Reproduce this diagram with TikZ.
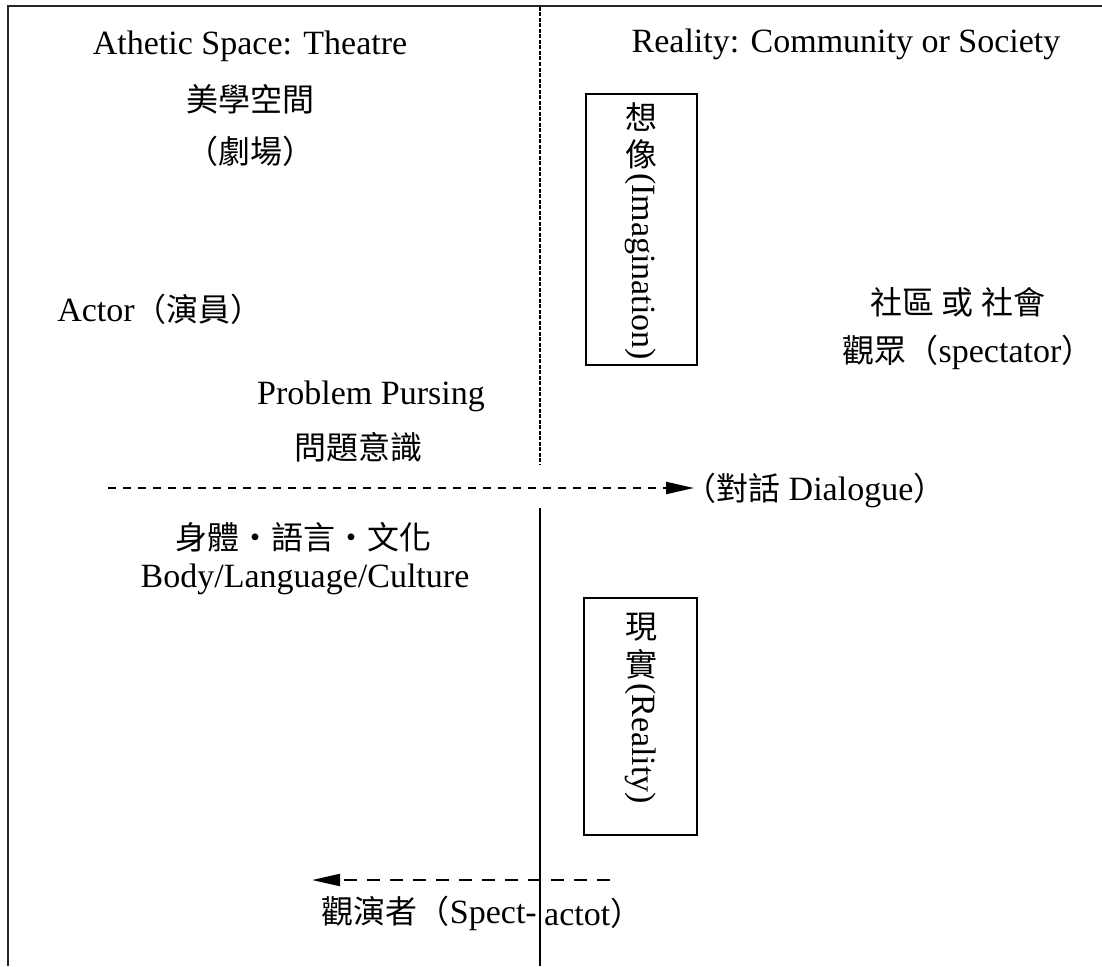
\documentclass[tikz,border=0pt]{standalone}
\usepackage{fontspec}
\setmainfont{Liberation Serif}
\newfontfamily\cjk{Noto Sans CJK TC}
\usetikzlibrary{arrows.meta}
\newcommand{\zh}[1]{{\cjk\fontsize{32}{36}\selectfont #1}}
\begin{document}
\begin{tikzpicture}[x=1pt,y=-1pt,
  lat/.style={font=\fontsize{34}{40}\selectfont, inner sep=0pt},
  cj/.style={font=\fontsize{32}{36}\selectfont\cjk, inner sep=0pt},
  framel/.style={line width=2.4pt, draw=black!85},
  vbox/.style={draw, line width=1.8pt, inner sep=0pt},
  vdash/.style={line width=1.9pt, dash pattern=on 4pt off 1.5pt},
  dlA/.style={line width=2pt, dash pattern=on 8pt off 7pt},
  dlB/.style={line width=2pt, dash pattern=on 13pt off 10pt},
  arh/.style={-{Triangle[length=28pt,width=12pt]}},
  rtxt/.style={lat, rotate=-90, anchor=west}
]
\useasboundingbox (0,0) rectangle (1102,966);
% frame
\coordinate (ftr) at (1102,6);
\coordinate (ftl) at (8,6);
\coordinate (fbl) at (8,966);
\draw[framel] (ftr) -- (ftl) -- (fbl);
% central divider
\coordinate (vt) at (540,7);
\coordinate (vm) at (540,465);
\coordinate (vs) at (540,508);
\coordinate (vb) at (540,966);
\draw[vdash] (vt) -- (vm);
\draw[line width=1.6pt] (vs) -- (vb);

% left column texts
\node[lat] (t1) at (250,46) {Athetic Space: Theatre};
\node[cj] (t2) at (250,99) {美學空間};
\node[cj] (t3) at (250,151) {（劇場）};
\node[lat] (t5) at (160,309) {Actor\zh{（演員）}};
\node[lat] (t8) at (371,396) {Problem Pursing};
\node[cj] (t9) at (358,447) {問題意識};
\node[cj] (t11) at (303,537) {身體・語言・文化};
\node[lat] (t12) at (305,579) {Body/Language/Culture};

% right column texts
\node[lat] (t4) at (846,44) {Reality: Community or Society};
\node[cj] (t6) at (958,302) {社區 或 社會};
\node[lat] (t7) at (968,352) {\zh{觀眾（}spectator\zh{）}};

% imagination box
\node[vbox, minimum width=111pt, minimum height=271pt] (ibox) at (641.5,229.5) {};
\node[cj] (i1) at (641,117) {想};
\node[cj] (i2) at (641,154) {像};
\node[rtxt] (i3) at (641,173) {(Imagination)};

% reality box
\node[vbox, minimum width=113pt, minimum height=237pt] (rbox) at (640.5,716.5) {};
\node[cj] (r1) at (641,627) {現};
\node[cj] (r2) at (641,664) {實};
\node[rtxt] (r3) at (641,683) {(Reality)};

% dialogue arrow
\coordinate (da) at (108,488);
\coordinate (db) at (694,488);
\node[lat, anchor=west] (dlab) at (684,490) {\zh{（對話} Dialogue\zh{）}};
\draw[dlA, arh] (da) -- (db);

% spect-actor arrow
\coordinate (sa) at (610,880);
\coordinate (sb) at (312,880);
\draw[dlB, arh] (sa) -- (sb);
\node[lat, anchor=east] (sl1) at (537,913) {\zh{觀演者（}Spect-};
\node[lat, anchor=west] (sl2) at (544,913) {actot\zh{）}};
\end{tikzpicture}
\end{document}
